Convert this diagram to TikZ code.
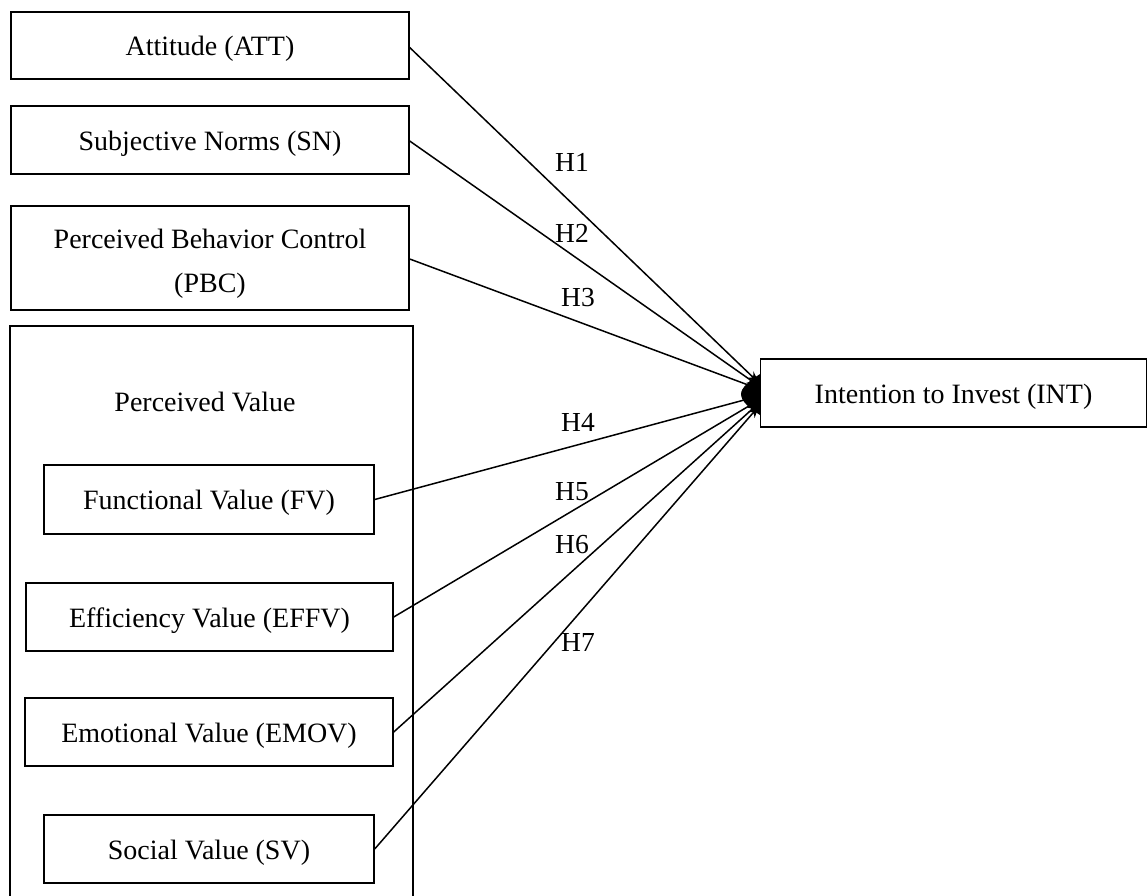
\documentclass[tikz,border=0pt]{standalone}
\usepackage{fontspec}
\setmainfont{Liberation Serif}
\usetikzlibrary{arrows.meta}
\begin{document}
\begin{tikzpicture}[x=1pt,y=-1pt,
  box/.style={draw,line width=1.4pt,inner sep=0pt,font=\fontsize{28}{44}\selectfont,align=center,text height=20pt,text depth=0pt},
  txt/.style={font=\fontsize{28}{44}\selectfont,inner sep=0pt,anchor=base},
  lbl/.style={font=\fontsize{27.5}{30}\selectfont,inner sep=0pt},
  conn/.style={line width=1.5pt,-{Stealth[length=12pt,width=9pt]}}]
\useasboundingbox (0,0) rectangle (1148,895);
\fill[white] (0,0) rectangle (1148,895);
% outer group box
\draw[line width=2.8pt] (10,905) -- (10,326) -- (413,326) -- (413,905);
\node[lbl,font=\fontsize{28}{30}\selectfont] (pvt) at (205,402) {Perceived Value};
\node[box,minimum width=398pt,minimum height=67pt] (att) at (210,45.5) {Attitude (ATT)};
\node[box,minimum width=398pt,minimum height=68pt] (sn) at (210,140) {Subjective Norms (SN)};
\node[box,minimum width=398pt,minimum height=104pt] (pbc) at (210,258) {};
\node[txt] (pbct1) at (210,248) {Perceived Behavior Control};
\node[txt] (pbct2) at (210,292) {(PBC)};
\node[box,minimum width=330pt,minimum height=69pt] (fv) at (209,499.5) {Functional Value (FV)};
\node[box,minimum width=367pt,minimum height=68pt] (effv) at (209.5,617) {Efficiency Value (EFFV)};
\node[box,minimum width=368pt,minimum height=68pt] (emov) at (209,732) {Emotional Value (EMOV)};
\node[box,minimum width=330pt,minimum height=68pt] (sv) at (209,849) {Social Value (SV)};
\node[box,minimum width=386pt,minimum height=68pt] (int) at (953.5,393) {Intention to Invest (INT)};
% end points on the left side of INT
\coordinate (e1) at (759,383);
\coordinate (e2) at (759,386);
\coordinate (e3) at (759,389);
\coordinate (e4) at (759,396);
\coordinate (e5) at (759,400);
\coordinate (e6) at (759,403);
\coordinate (e7) at (759,406);
\draw[conn] ([yshift=-2pt]att.east) -- (e1);
\draw[conn] ([yshift=-1pt]sn.east) -- (e2);
\draw[conn] ([yshift=-1pt]pbc.east) -- (e3);
\draw[conn] (fv.east) -- (e4);
\draw[conn] (effv.east) -- (e5);
\draw[conn] (emov.east) -- (e6);
\draw[conn] (sv.east) -- (e7);
% merged arrowheads
\fill (760,374) .. controls (749,381) and (741,388) .. (741,394)
  .. controls (741,401) and (749,408) .. (760,415) -- cycle;
\node[lbl] (h1) at (572,162) {H1};
\node[lbl] (h2) at (572,233) {H2};
\node[lbl] (h3) at (578,298) {H3};
\node[lbl] (h4) at (578,422) {H4};
\node[lbl] (h5) at (572,492) {H5};
\node[lbl] (h6) at (572,545) {H6};
\node[lbl] (h7) at (578,642) {H7};
\end{tikzpicture}
\end{document}
